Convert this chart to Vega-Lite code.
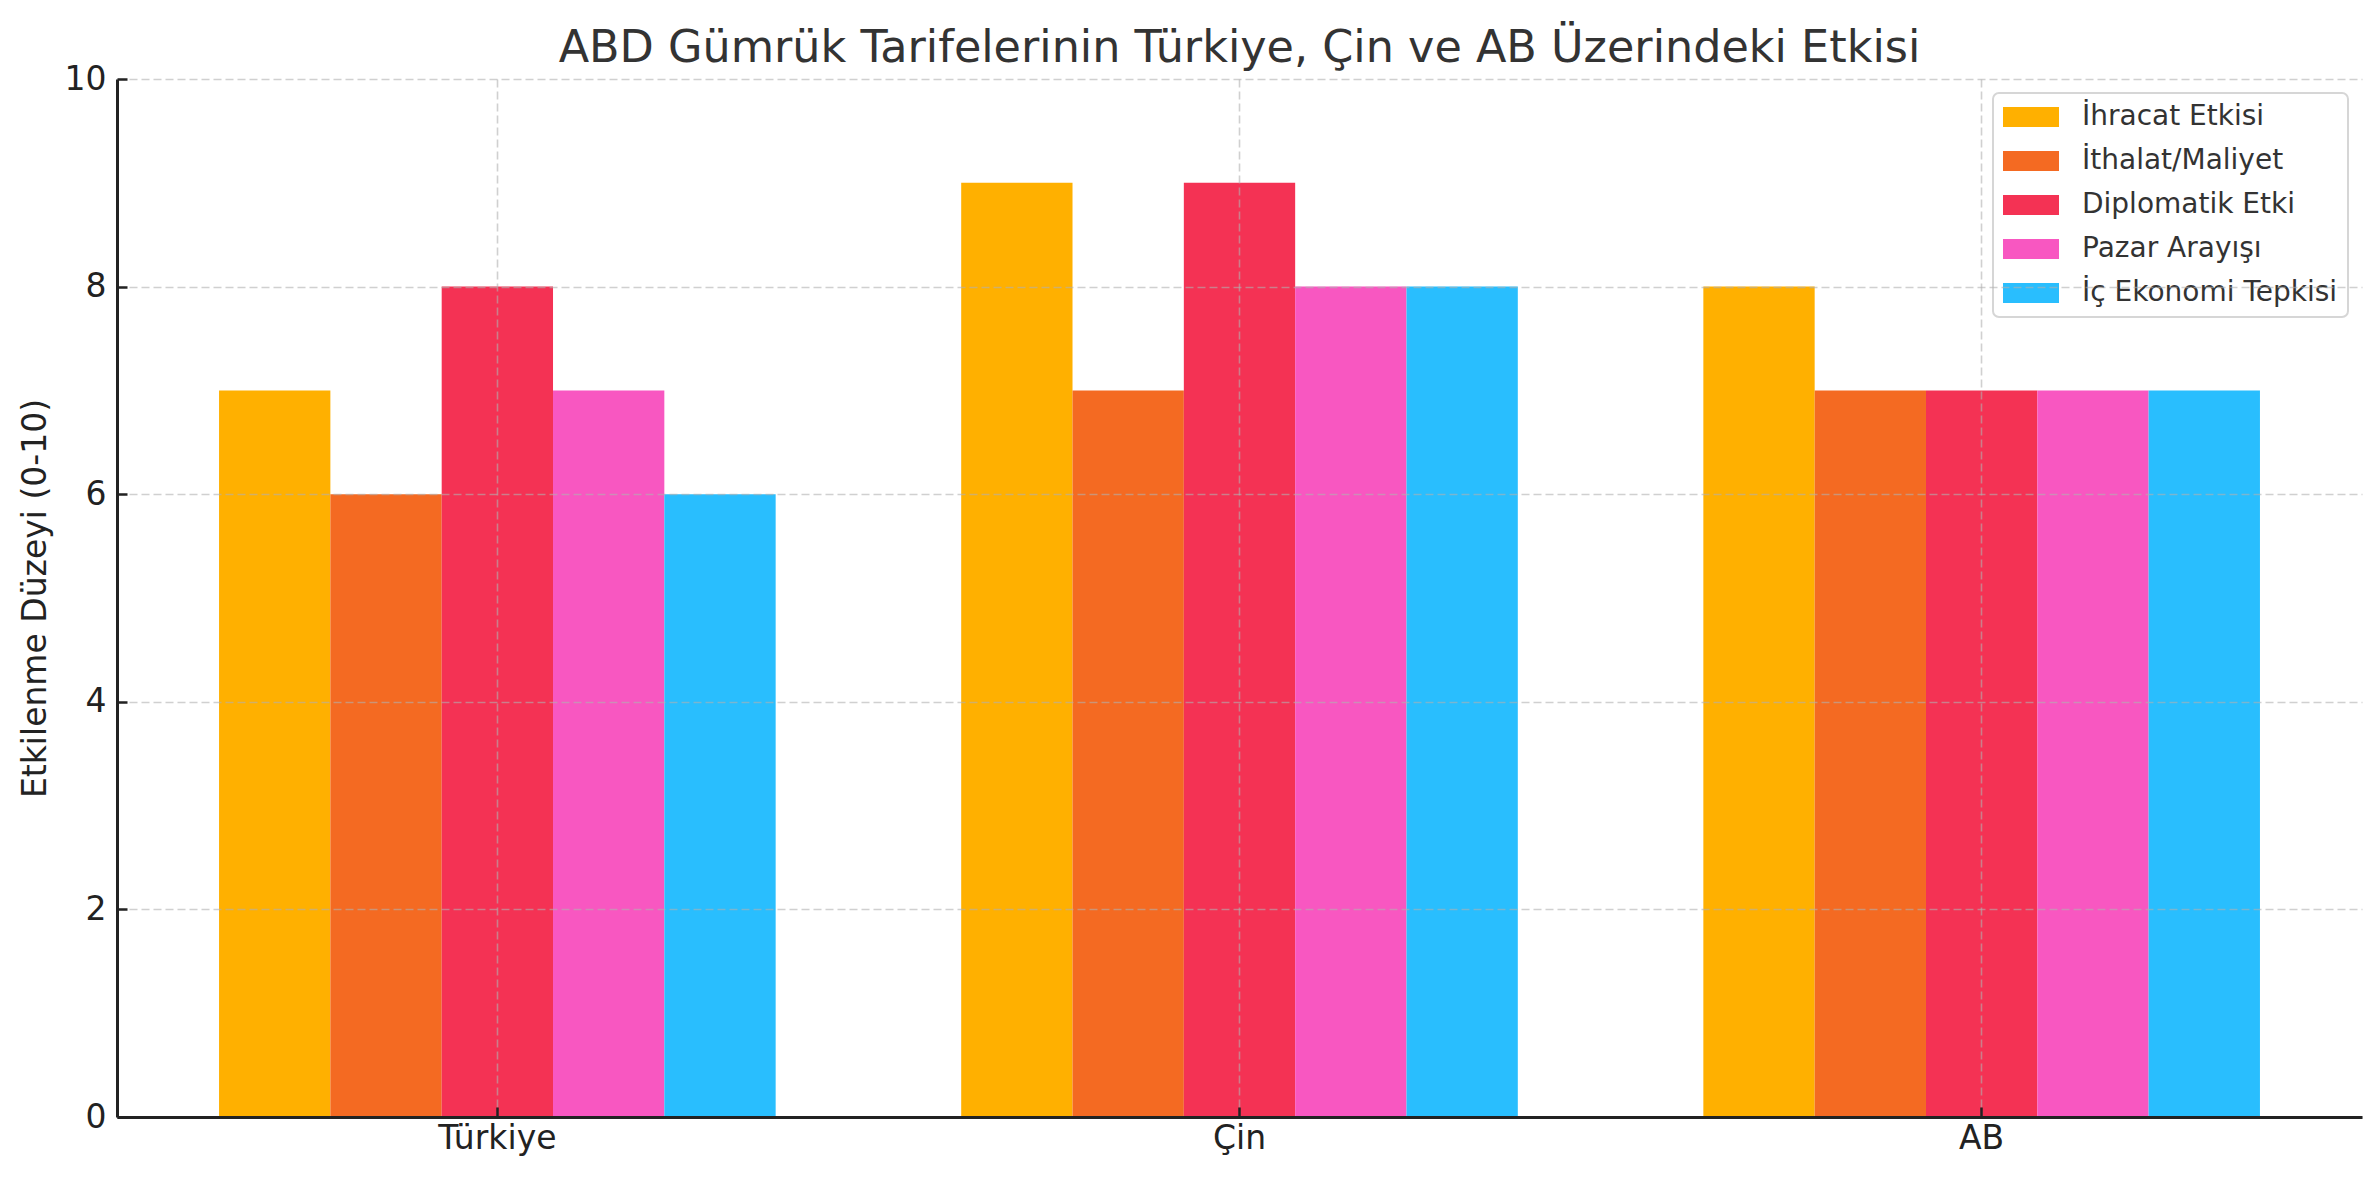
{
  "$schema": "https://vega.github.io/schema/vega-lite/v6.json",
  "autosize": {"type": "none"},
  "width": 2245,
  "height": 1038,
  "padding": {"left": 117, "top": 79, "right": 17, "bottom": 63},
  "background": "white",
  "title": {
    "text": "ABD Gümrük Tarifelerinin Türkiye, Çin ve AB Üzerindeki Etkisi",
    "fontSize": 44.5,
    "font": "DejaVu Sans",
    "fontWeight": "normal",
    "color": "#333333",
    "anchor": "middle",
    "offset": -8
  },
  "config": {
    "view": {"stroke": null},
    "font": "DejaVu Sans"
  },
  "data": {
    "values": [
      {"country": "Türkiye", "series": "İhracat Etkisi", "value": 7},
      {"country": "Türkiye", "series": "İthalat/Maliyet", "value": 6},
      {"country": "Türkiye", "series": "Diplomatik Etki", "value": 8},
      {"country": "Türkiye", "series": "Pazar Arayışı", "value": 7},
      {"country": "Türkiye", "series": "İç Ekonomi Tepkisi", "value": 6},
      {"country": "Çin", "series": "İhracat Etkisi", "value": 9},
      {"country": "Çin", "series": "İthalat/Maliyet", "value": 7},
      {"country": "Çin", "series": "Diplomatik Etki", "value": 9},
      {"country": "Çin", "series": "Pazar Arayışı", "value": 8},
      {"country": "Çin", "series": "İç Ekonomi Tepkisi", "value": 8},
      {"country": "AB", "series": "İhracat Etkisi", "value": 8},
      {"country": "AB", "series": "İthalat/Maliyet", "value": 7},
      {"country": "AB", "series": "Diplomatik Etki", "value": 7},
      {"country": "AB", "series": "Pazar Arayışı", "value": 7},
      {"country": "AB", "series": "İç Ekonomi Tepkisi", "value": 7}
    ]
  },
  "mark": {"type": "bar"},
  "encoding": {
    "x": {
      "field": "country",
      "type": "nominal",
      "sort": ["Türkiye", "Çin", "AB"],
      "scale": {"paddingInner": 0.25, "paddingOuter": 0.1375},
      "axis": {
        "title": null,
        "labelAngle": 0,
        "labelFontSize": 33,
        "labelColor": "#222222",
        "labelPadding": 15,
        "domainColor": "#222222",
        "domainWidth": 3,
        "tickColor": "#222222",
        "tickWidth": 2.5,
        "tickSize": -10,
        "tickBand": "center",
        "grid": true,
        "gridColor": "#b0b0b0",
        "gridOpacity": 0.6,
        "gridWidth": 1.6,
        "gridDash": [8, 4],
        "zindex": 1
      }
    },
    "xOffset": {
      "field": "series",
      "type": "nominal",
      "sort": ["İhracat Etkisi", "İthalat/Maliyet", "Diplomatik Etki", "Pazar Arayışı", "İç Ekonomi Tepkisi"],
      "scale": {"paddingInner": 0, "paddingOuter": 0}
    },
    "y": {
      "field": "value",
      "type": "quantitative",
      "scale": {"domain": [0, 10], "nice": false},
      "axis": {
        "title": "Etkilenme Düzeyi (0-10)",
        "titleFontSize": 33,
        "titleFontWeight": "normal",
        "titleColor": "#222222",
        "titlePadding": 12,
        "values": [0, 2, 4, 6, 8, 10],
        "labelFontSize": 33,
        "labelColor": "#222222",
        "labelPadding": 21,
        "domainColor": "#222222",
        "domainWidth": 3,
        "tickColor": "#222222",
        "tickWidth": 2.5,
        "tickSize": -10,
        "grid": true,
        "gridColor": "#b0b0b0",
        "gridOpacity": 0.6,
        "gridWidth": 1.6,
        "gridDash": [8, 4],
        "zindex": 1
      }
    },
    "color": {
      "field": "series",
      "type": "nominal",
      "scale": {
        "domain": ["İhracat Etkisi", "İthalat/Maliyet", "Diplomatik Etki", "Pazar Arayışı", "İç Ekonomi Tepkisi"],
        "range": ["#FFB000", "#F46A22", "#F43254", "#F857C1", "#29BEFE"]
      },
      "legend": {
        "title": null,
        "orient": "none",
        "legendX": 1876,
        "legendY": 14,
        "symbolType": "M-1,-0.714L3,-0.714L3,0.714L-1,0.714Z",
        "symbolSize": 784,
        "symbolStrokeWidth": 0,
        "labelFontSize": 28,
        "labelColor": "#333333",
        "labelOffset": 51,
        "rowPadding": 16,
        "padding": 10,
        "fillColor": "white",
        "strokeColor": "#d6d6d6",
        "cornerRadius": 6,
        "labelLimit": 600,
        "encode": {"legend": {"update": {"strokeWidth": {"value": 2}}}}
      }
    }
  }
}
